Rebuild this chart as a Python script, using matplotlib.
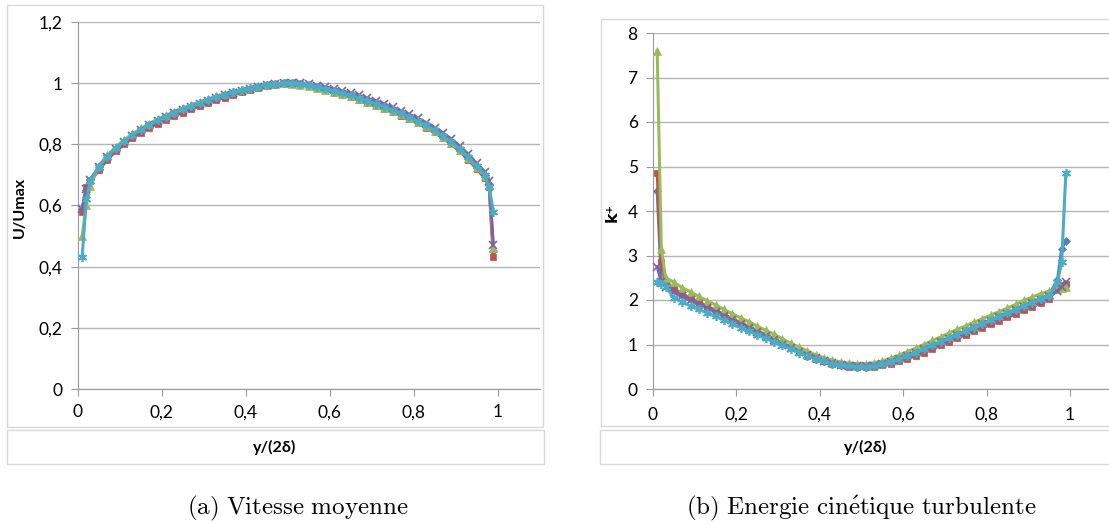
import matplotlib.pyplot as plt
from matplotlib.patches import Rectangle
from matplotlib.ticker import FuncFormatter, MultipleLocator

# positions y/(2delta): wall points + core grid + wall points
xpos = [0.01, 0.02,
        0.03, 0.05, 0.07, 0.09, 0.11, 0.13, 0.15, 0.17, 0.19, 0.21, 0.23, 0.25,
        0.27, 0.29, 0.31, 0.33, 0.35, 0.37, 0.39, 0.41, 0.43, 0.45, 0.47, 0.49,
        0.51, 0.53, 0.55, 0.57, 0.59, 0.61, 0.63, 0.65, 0.67, 0.69, 0.71, 0.73,
        0.75, 0.77, 0.79, 0.81, 0.83, 0.85, 0.87, 0.89, 0.91, 0.93, 0.95, 0.97,
        0.98, 0.99]

# U/Umax
u_blue = [0.59, 0.65,
          0.685, 0.725, 0.758, 0.785, 0.808, 0.828, 0.846, 0.862, 0.876, 0.889, 0.901, 0.912,
          0.923, 0.933, 0.943, 0.952, 0.960, 0.968, 0.975, 0.982, 0.988, 0.993, 0.997, 1.000,
          1.000, 0.997, 0.993, 0.988, 0.982, 0.975, 0.968, 0.960, 0.952, 0.943, 0.933, 0.923,
          0.912, 0.901, 0.889, 0.876, 0.862, 0.846, 0.828, 0.808, 0.785, 0.758, 0.728, 0.700,
          0.67, 0.45]
u_red = [0.58, 0.66,
         0.680, 0.715, 0.750, 0.777, 0.800, 0.820, 0.838, 0.854, 0.868, 0.881, 0.893, 0.904,
         0.915, 0.925, 0.935, 0.944, 0.953, 0.962, 0.970, 0.977, 0.984, 0.990, 0.995, 0.999,
         1.000, 0.996, 0.990, 0.984, 0.977, 0.969, 0.962, 0.954, 0.945, 0.936, 0.926, 0.916,
         0.905, 0.894, 0.882, 0.869, 0.855, 0.839, 0.821, 0.800, 0.777, 0.750, 0.720, 0.690,
         0.66, 0.43]
u_green = [0.50, 0.60,
           0.665, 0.730, 0.764, 0.791, 0.814, 0.834, 0.852, 0.868, 0.882, 0.895, 0.907, 0.918,
           0.929, 0.939, 0.948, 0.957, 0.965, 0.972, 0.979, 0.985, 0.990, 0.994, 0.997, 0.999,
           0.998, 0.995, 0.990, 0.985, 0.979, 0.972, 0.965, 0.957, 0.949, 0.940, 0.930, 0.920,
           0.909, 0.898, 0.886, 0.873, 0.859, 0.843, 0.825, 0.805, 0.782, 0.755, 0.725, 0.695,
           0.67, 0.46]
u_purple = [0.59, 0.655,
            0.685, 0.725, 0.758, 0.785, 0.808, 0.828, 0.846, 0.862, 0.876, 0.889, 0.901, 0.912,
            0.923, 0.933, 0.943, 0.952, 0.960, 0.968, 0.975, 0.982, 0.988, 0.993, 0.997, 1.000,
            1.000, 0.999, 0.996, 0.992, 0.988, 0.982, 0.975, 0.968, 0.960, 0.951, 0.942, 0.932,
            0.921, 0.910, 0.898, 0.885, 0.871, 0.855, 0.837, 0.817, 0.794, 0.768, 0.738, 0.710,
            0.68, 0.47]
u_cyan = [0.43, 0.62,
          0.680, 0.727, 0.760, 0.787, 0.810, 0.830, 0.848, 0.864, 0.878, 0.891, 0.903, 0.914,
          0.925, 0.935, 0.945, 0.954, 0.962, 0.970, 0.977, 0.983, 0.989, 0.994, 0.998, 1.000,
          1.000, 0.997, 0.993, 0.988, 0.982, 0.975, 0.968, 0.960, 0.952, 0.943, 0.933, 0.923,
          0.912, 0.901, 0.889, 0.876, 0.862, 0.846, 0.828, 0.808, 0.785, 0.758, 0.730, 0.700,
          0.66, 0.58]

# k+
k_blue = [4.45, 2.40,
          2.35, 2.22, 2.12, 2.03, 1.94, 1.85, 1.76, 1.66, 1.57, 1.48, 1.39, 1.30,
          1.21, 1.12, 1.03, 0.94, 0.85, 0.77, 0.70, 0.64, 0.59, 0.55, 0.52, 0.51,
          0.51, 0.53, 0.57, 0.62, 0.68, 0.75, 0.83, 0.91, 0.99, 1.07, 1.15, 1.23,
          1.31, 1.39, 1.47, 1.55, 1.63, 1.71, 1.79, 1.88, 1.96, 2.04, 2.12, 2.45,
          3.15, 3.33]
k_red = [4.85, 2.85,
         2.40, 2.25, 2.14, 2.04, 1.95, 1.86, 1.76, 1.66, 1.57, 1.48, 1.38, 1.29,
         1.20, 1.11, 1.02, 0.93, 0.84, 0.75, 0.68, 0.62, 0.57, 0.53, 0.50, 0.49,
         0.49, 0.50, 0.53, 0.57, 0.62, 0.68, 0.75, 0.82, 0.90, 0.98, 1.06, 1.14,
         1.22, 1.30, 1.37, 1.45, 1.53, 1.61, 1.69, 1.77, 1.85, 1.93, 2.02, 2.30,
         2.33, 2.36]
k_green = [7.60, 3.15,
           2.50, 2.40, 2.28, 2.18, 2.08, 1.98, 1.89, 1.79, 1.69, 1.60, 1.51, 1.41,
           1.32, 1.23, 1.13, 1.03, 0.94, 0.85, 0.77, 0.70, 0.65, 0.61, 0.58, 0.57,
           0.57, 0.59, 0.63, 0.69, 0.76, 0.84, 0.92, 1.00, 1.09, 1.17, 1.26, 1.34,
           1.42, 1.50, 1.58, 1.66, 1.74, 1.82, 1.90, 1.99, 2.07, 2.14, 2.20, 2.25,
           2.27, 2.30]
k_purple = [2.75, 2.40,
            2.30, 2.18, 2.08, 1.99, 1.90, 1.81, 1.72, 1.63, 1.54, 1.45, 1.36, 1.27,
            1.18, 1.09, 1.00, 0.92, 0.83, 0.76, 0.69, 0.63, 0.58, 0.54, 0.52, 0.51,
            0.51, 0.52, 0.56, 0.61, 0.67, 0.74, 0.81, 0.89, 0.97, 1.05, 1.13, 1.21,
            1.29, 1.37, 1.45, 1.53, 1.61, 1.69, 1.77, 1.85, 1.93, 2.01, 2.08, 2.20,
            2.30, 2.40]
k_cyan = [2.40, 2.35,
          2.30, 2.05, 1.95, 1.87, 1.79, 1.71, 1.63, 1.55, 1.46, 1.38, 1.30, 1.22,
          1.14, 1.06, 0.98, 0.90, 0.82, 0.74, 0.68, 0.62, 0.57, 0.54, 0.51, 0.50,
          0.50, 0.52, 0.56, 0.61, 0.67, 0.74, 0.82, 0.90, 0.98, 1.06, 1.14, 1.22,
          1.30, 1.38, 1.46, 1.54, 1.62, 1.70, 1.78, 1.86, 1.94, 2.02, 2.10, 2.40,
          2.85, 4.85]

colors = ['#4F81BD', '#C0504D', '#9BBB59', '#8064A2', '#4BACC6']
markers = [('D', 4, 0.5), ('s', 5, 0.5), ('^', 5.5, 0.5), ('x', 5.5, 1.2), ((6, 2, 0), 6.5, 1.2)]

W, H = 1109, 524
fig = plt.figure(figsize=(W / 100, H / 100), dpi=100)
ui = ['Lato', 'DejaVu Sans']


def px(x0, y0, x1, y1):
    return [x0 / W, 1 - y1 / H, (x1 - x0) / W, (y1 - y0) / H]


# chart frames (Excel look)
for b in [(7, 5, 543, 427), (7, 430, 544, 464), (601, 19, 1115, 426), (600, 430, 1115, 464)]:
    r = px(*b)
    fig.add_artist(Rectangle((r[0], r[1]), r[2], r[3], transform=fig.transFigure,
                             fill=False, ec='#d9d9d9', lw=1))

comma = FuncFormatter(lambda v, p: ('%g' % round(v, 3)).replace('.', ','))


def style(ax, ymax, ystep):
    ax.set_xlim(0, 1.1)
    ax.set_ylim(0, ymax)
    ax.xaxis.set_major_locator(plt.FixedLocator([0, 0.2, 0.4, 0.6, 0.8, 1.0]))
    ax.yaxis.set_major_locator(MultipleLocator(ystep))
    ax.xaxis.set_major_formatter(comma)
    ax.yaxis.set_major_formatter(comma)
    for s in ['top', 'right']:
        ax.spines[s].set_visible(False)
    for s in ['left', 'bottom']:
        ax.spines[s].set_color('#9a9a9a')
    ax.grid(axis='y', color='#b5b5b5', lw=1)
    ax.set_axisbelow(True)
    ax.tick_params(direction='out', length=5, color='#9a9a9a', labelsize=12.5, pad=6)
    for lab in ax.get_xticklabels() + ax.get_yticklabels():
        lab.set_family(ui)
    ax.patch.set_alpha(0)


ax1 = fig.add_axes(px(77.9, 22, 539.5, 389))
ax2 = fig.add_axes(px(653, 33, 1111.7, 389))
style(ax1, 1.2, 0.2)
style(ax2, 8, 1)
ax2.tick_params(axis='x', pad=8)

for ax, series in [(ax1, [u_blue, u_red, u_green, u_purple, u_cyan]),
                   (ax2, [k_blue, k_red, k_green, k_purple, k_cyan])]:
    for vals, c, (m, ms, mew) in zip(series, colors, markers):
        ax.plot(xpos, vals, color=c, lw=2.2, marker=m, ms=ms, mew=mew,
                mec=c, mfc=c, clip_on=False, zorder=3)

fig.text(20 / W, 1 - 207 / H, 'U/Umax', rotation=90, ha='center', va='center',
         fontsize=11.5, fontweight='bold', family=ui)
fig.text(275 / W, 1 - 447 / H, 'y/(2δ)', ha='center', va='center',
         fontsize=11.5, fontweight='bold', family=ui)
fig.text(612 / W, 1 - 212 / H, 'k⁺', rotation=90, ha='center', va='center',
         fontsize=11.5, fontweight='bold', family=['DejaVu Sans'])
fig.text(866 / W, 1 - 447 / H, 'y/(2δ)', ha='center', va='center',
         fontsize=11.5, fontweight='bold', family=ui)

plt.rcParams['mathtext.fontset'] = 'cm'
fig.text(298 / W, 1 - 508 / H, r'$\mathrm{(a)\ Vitesse\ moyenne}$',
         ha='center', va='center', fontsize=18)
fig.text(861 / W, 1 - 508 / H, r'$\mathrm{(b)\ Energie\ cin\'{e}tique\ turbulente}$',
         ha='center', va='center', fontsize=18)

fig.savefig('out.png', dpi=100)
